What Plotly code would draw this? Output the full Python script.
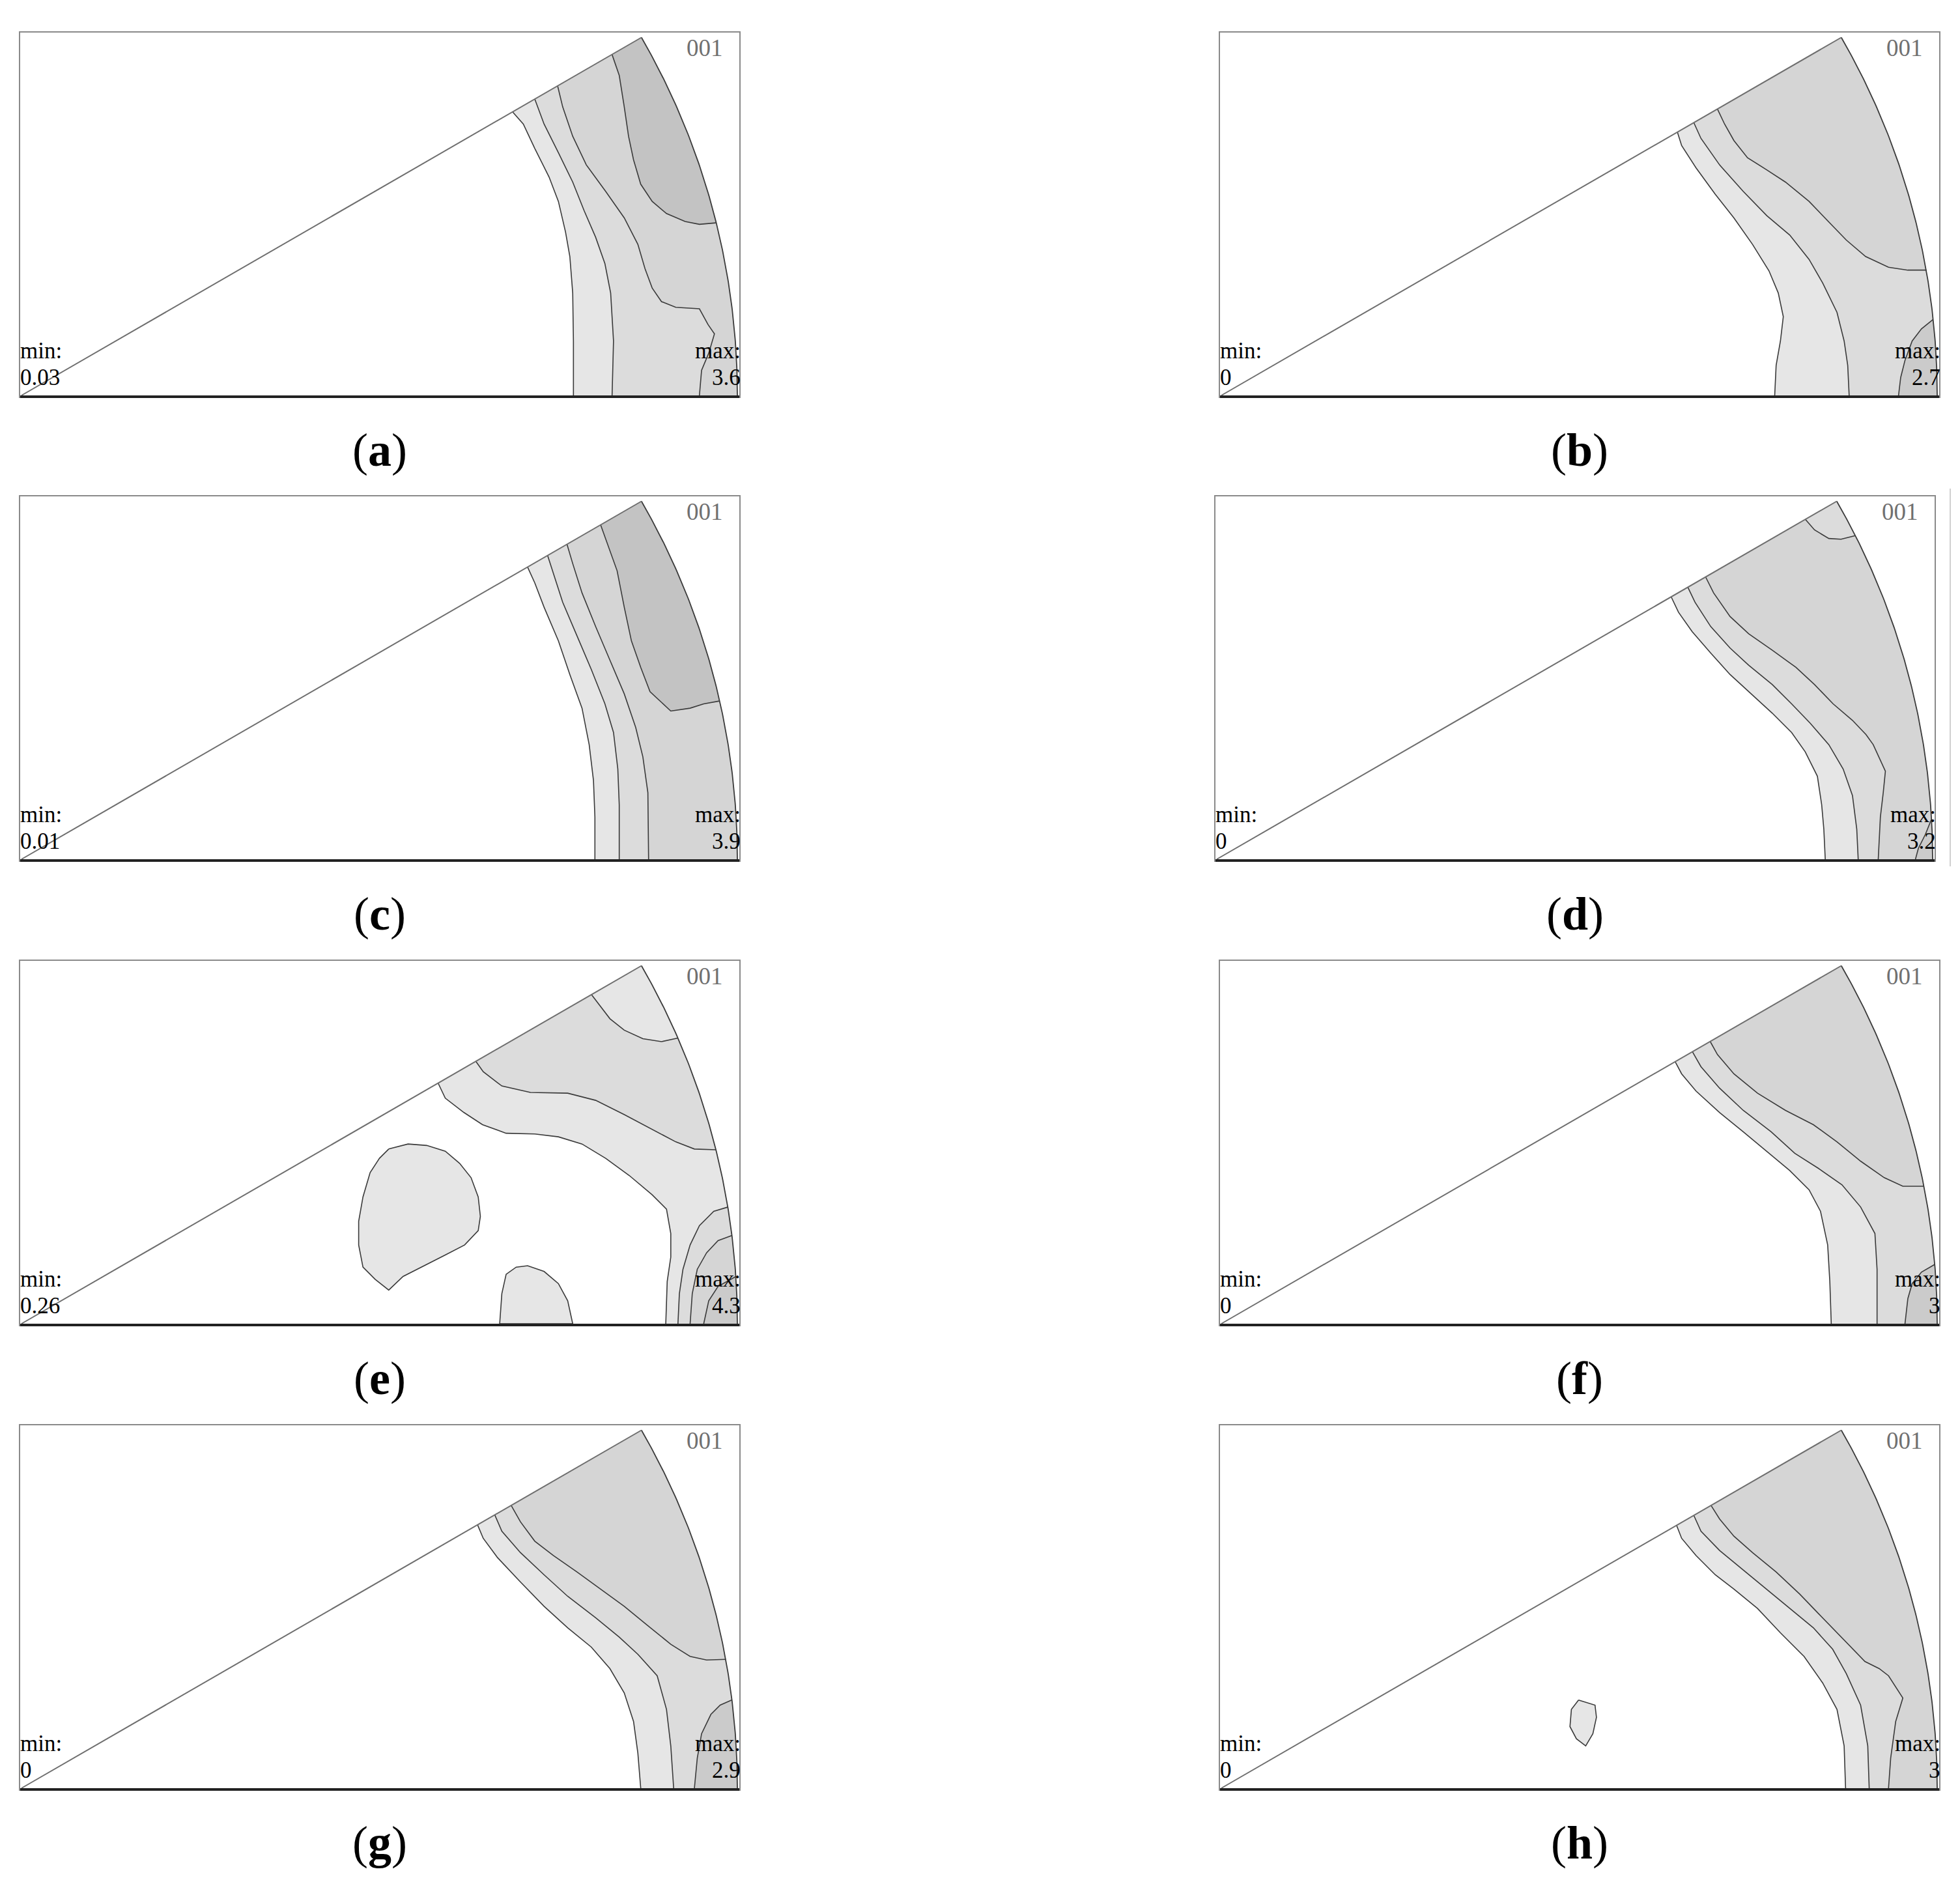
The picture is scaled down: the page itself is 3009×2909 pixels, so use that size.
import numpy as np
import plotly.graph_objects as go

# panel texts
letters = ["a", "b", "c", "d", "e", "f", "g", "h"]
min_values = ["0.03", "0", "0.01", "0", "0.26", "0", "0", "0"]
max_values = ["3.6", "2.7", "3.9", "3.2", "4.3", "3", "2.9", "3"]
pole_label = "001"

# contour boundaries in the 0-30 deg sector (unit radius)
# each entry: (density level, "edge" = ends on the sector border / "loop" = closed, points)
contours_a = [
    (1, "edge", [(0.686, 0.396), (0.701, 0.379), (0.717, 0.345), (0.737, 0.305), (0.750, 0.271), (0.760, 0.228),
                 (0.766, 0.194), (0.770, 0.143), (0.771, 0.076), (0.771, 0.0)]),
    (2, "edge", [(0.717, 0.414), (0.730, 0.379), (0.750, 0.339), (0.770, 0.298), (0.786, 0.258), (0.802, 0.221),
                 (0.815, 0.184), (0.823, 0.143), (0.827, 0.076), (0.825, 0.0)]),
    (3, "edge", [(0.749, 0.432), (0.756, 0.403), (0.770, 0.362), (0.789, 0.322), (0.816, 0.285), (0.842, 0.248),
                 (0.861, 0.211), (0.871, 0.177), (0.881, 0.150), (0.894, 0.131), (0.914, 0.123), (0.947, 0.121),
                 (0.959, 0.099), (0.968, 0.086), (0.960, 0.059), (0.950, 0.035), (0.947, 0.0)]),
    (5, "edge", [(0.825, 0.476), (0.835, 0.447), (0.842, 0.403), (0.848, 0.362), (0.855, 0.329), (0.865, 0.295),
                 (0.881, 0.271), (0.901, 0.254), (0.927, 0.243), (0.947, 0.239), (0.970, 0.241)]),
]
contours_b = [
    (1, "edge", [(0.637, 0.368), (0.643, 0.349), (0.663, 0.318), (0.690, 0.281), (0.716, 0.248), (0.742, 0.211),
                 (0.765, 0.174), (0.778, 0.143), (0.785, 0.110), (0.781, 0.076), (0.775, 0.042), (0.773, 0.0)]),
    (2, "edge", [(0.660, 0.381), (0.670, 0.359), (0.696, 0.322), (0.729, 0.285), (0.762, 0.251), (0.794, 0.224),
                 (0.821, 0.190), (0.840, 0.157), (0.860, 0.116), (0.870, 0.076), (0.875, 0.042), (0.877, 0.0)]),
    (3, "edge", [(0.693, 0.400), (0.703, 0.379), (0.716, 0.356), (0.735, 0.332), (0.762, 0.315), (0.788, 0.298),
                 (0.821, 0.271), (0.847, 0.244), (0.873, 0.217), (0.900, 0.194), (0.932, 0.179), (0.959, 0.175),
                 (0.985, 0.175)]),
    (4, "edge", [(0.994, 0.106), (0.978, 0.093), (0.965, 0.076), (0.955, 0.049), (0.949, 0.025), (0.946, 0.0)]),
]
contours_c = [
    (1, "edge", [(0.707, 0.408), (0.717, 0.386), (0.730, 0.352), (0.750, 0.305), (0.766, 0.258), (0.783, 0.211),
                 (0.793, 0.160), (0.799, 0.110), (0.801, 0.059), (0.801, 0.0)]),
    (2, "edge", [(0.735, 0.424), (0.743, 0.399), (0.756, 0.359), (0.776, 0.312), (0.796, 0.265), (0.815, 0.217),
                 (0.827, 0.177), (0.833, 0.126), (0.835, 0.076), (0.835, 0.0)]),
    (3, "edge", [(0.762, 0.440), (0.770, 0.413), (0.783, 0.372), (0.802, 0.325), (0.822, 0.278), (0.842, 0.231),
                 (0.858, 0.184), (0.868, 0.143), (0.875, 0.093), (0.876, 0.0)]),
    (5, "edge", [(0.809, 0.467), (0.819, 0.440), (0.832, 0.403), (0.842, 0.352), (0.852, 0.305), (0.865, 0.268),
                 (0.878, 0.234), (0.907, 0.207), (0.934, 0.211), (0.953, 0.217), (0.975, 0.221)]),
]
contours_d = [
    (1, "edge", [(0.635, 0.366), (0.645, 0.345), (0.664, 0.318), (0.690, 0.288), (0.717, 0.258), (0.743, 0.234),
                 (0.776, 0.204), (0.803, 0.177), (0.822, 0.150), (0.839, 0.116), (0.845, 0.076), (0.848, 0.042),
                 (0.850, 0.0)]),
    (2, "edge", [(0.658, 0.380), (0.668, 0.359), (0.690, 0.325), (0.717, 0.295), (0.743, 0.271), (0.776, 0.244),
                 (0.803, 0.217), (0.829, 0.190), (0.855, 0.160), (0.875, 0.126), (0.888, 0.089), (0.894, 0.042),
                 (0.896, 0.0)]),
    (3, "edge", [(0.683, 0.394), (0.694, 0.372), (0.717, 0.339), (0.743, 0.315), (0.776, 0.292), (0.809, 0.268),
                 (0.835, 0.244), (0.861, 0.217), (0.888, 0.194), (0.907, 0.174), (0.917, 0.160), (0.934, 0.123),
                 (0.931, 0.093), (0.927, 0.059), (0.924, 0.0)]),
    (4, "edge", [(0.998, 0.055), (0.990, 0.035), (0.980, 0.015), (0.976, 0.0)]),
    (2, "edge", [(0.822, 0.475), (0.835, 0.460), (0.855, 0.448), (0.872, 0.447), (0.892, 0.452)]),
]
contours_e = [
    (1, "edge", [(0.582, 0.336), (0.592, 0.315), (0.618, 0.295), (0.644, 0.278), (0.677, 0.266), (0.717, 0.265),
                 (0.750, 0.261), (0.783, 0.251), (0.816, 0.231), (0.849, 0.207), (0.881, 0.180), (0.901, 0.160),
                 (0.907, 0.126), (0.907, 0.093), (0.902, 0.059), (0.900, 0.0)]),
    (2, "edge", [(0.635, 0.366), (0.645, 0.352), (0.671, 0.332), (0.711, 0.323), (0.763, 0.322), (0.802, 0.312),
                 (0.842, 0.292), (0.881, 0.271), (0.914, 0.254), (0.940, 0.244), (0.970, 0.243)]),
    (1, "edge", [(0.796, 0.460), (0.806, 0.447), (0.822, 0.426), (0.842, 0.410), (0.868, 0.398), (0.894, 0.394),
                 (0.917, 0.399)]),
    (2, "edge", [(0.987, 0.163), (0.967, 0.157), (0.947, 0.137), (0.934, 0.110), (0.924, 0.076), (0.919, 0.042),
                 (0.917, 0.0)]),
    (3, "edge", [(0.992, 0.123), (0.973, 0.116), (0.957, 0.099), (0.944, 0.076), (0.937, 0.042), (0.934, 0.0)]),
    (4, "edge", [(0.998, 0.066), (0.973, 0.052), (0.960, 0.032), (0.953, 0.0)]),
    (1, "loop", [(0.513, 0.244), (0.540, 0.251), (0.566, 0.249), (0.592, 0.241), (0.612, 0.224), (0.628, 0.204),
                 (0.638, 0.177), (0.641, 0.150), (0.638, 0.130), (0.619, 0.110), (0.592, 0.096), (0.559, 0.079),
                 (0.533, 0.066), (0.513, 0.047), (0.494, 0.062), (0.477, 0.079), (0.471, 0.110), (0.471, 0.143),
                 (0.477, 0.177), (0.487, 0.211), (0.500, 0.231)]),
    (1, "loop", [(0.668, 0.0), (0.671, 0.042), (0.677, 0.069), (0.691, 0.079), (0.707, 0.081), (0.730, 0.073),
                 (0.750, 0.056), (0.763, 0.032), (0.770, 0.0)]),
]
contours_f = [
    (1, "edge", [(0.634, 0.366), (0.643, 0.349), (0.663, 0.325), (0.696, 0.295), (0.729, 0.268), (0.762, 0.241),
                 (0.794, 0.214), (0.821, 0.187), (0.837, 0.157), (0.847, 0.110), (0.850, 0.059), (0.852, 0.0)]),
    (2, "edge", [(0.658, 0.380), (0.670, 0.359), (0.696, 0.329), (0.729, 0.298), (0.768, 0.268), (0.801, 0.238),
                 (0.834, 0.217), (0.867, 0.194), (0.893, 0.163), (0.913, 0.126), (0.916, 0.076), (0.916, 0.0)]),
    (3, "edge", [(0.683, 0.394), (0.693, 0.376), (0.716, 0.349), (0.749, 0.322), (0.788, 0.298), (0.827, 0.278),
                 (0.860, 0.254), (0.893, 0.227), (0.926, 0.204), (0.952, 0.192), (0.981, 0.192)]),
    (4, "edge", [(0.997, 0.083), (0.978, 0.072), (0.965, 0.056), (0.959, 0.035), (0.955, 0.0)]),
]
contours_g = [
    (1, "edge", [(0.637, 0.368), (0.645, 0.349), (0.665, 0.322), (0.697, 0.288), (0.730, 0.254), (0.763, 0.224),
                 (0.796, 0.197), (0.822, 0.167), (0.842, 0.133), (0.855, 0.093), (0.861, 0.049), (0.865, 0.0)]),
    (2, "edge", [(0.661, 0.382), (0.671, 0.359), (0.697, 0.329), (0.730, 0.298), (0.763, 0.268), (0.802, 0.238),
                 (0.835, 0.211), (0.861, 0.187), (0.888, 0.157), (0.901, 0.110), (0.907, 0.059), (0.911, 0.0)]),
    (3, "edge", [(0.684, 0.395), (0.697, 0.372), (0.717, 0.345), (0.743, 0.325), (0.776, 0.302), (0.809, 0.278),
                 (0.842, 0.254), (0.875, 0.227), (0.907, 0.201), (0.934, 0.184), (0.957, 0.179), (0.984, 0.180)]),
    (4, "edge", [(0.992, 0.123), (0.976, 0.116), (0.963, 0.103), (0.950, 0.076), (0.944, 0.042), (0.940, 0.0)]),
]
contours_h = [
    (1, "edge", [(0.636, 0.367), (0.643, 0.349), (0.663, 0.325), (0.690, 0.298), (0.716, 0.278), (0.749, 0.251),
                 (0.781, 0.217), (0.814, 0.184), (0.840, 0.147), (0.860, 0.110), (0.870, 0.059), (0.872, 0.0)]),
    (2, "edge", [(0.660, 0.381), (0.670, 0.359), (0.696, 0.332), (0.729, 0.305), (0.762, 0.278), (0.794, 0.251),
                 (0.827, 0.224), (0.854, 0.194), (0.873, 0.160), (0.893, 0.116), (0.903, 0.059), (0.905, 0.0)]),
    (3, "edge", [(0.684, 0.395), (0.696, 0.376), (0.716, 0.352), (0.742, 0.329), (0.775, 0.302), (0.808, 0.271),
                 (0.834, 0.244), (0.860, 0.217), (0.886, 0.190), (0.899, 0.177), (0.919, 0.167), (0.932, 0.157),
                 (0.952, 0.126), (0.942, 0.093), (0.935, 0.042), (0.932, 0.0)]),
    (1, "loop", [(0.499, 0.123), (0.522, 0.116), (0.524, 0.099), (0.519, 0.076), (0.509, 0.059), (0.496, 0.069),
                 (0.487, 0.086), (0.489, 0.110)]),
]

panels = [contours_a, contours_b, contours_c, contours_d, contours_e, contours_f, contours_g, contours_h]

level_colors = {1: "#e6e6e6", 2: "#dcdcdc", 3: "#d5d5d5", 4: "#cbcbcb", 5: "#c3c3c3"}

W, H = 3009, 2909
PAGE_OFFSET = 8  # the html body margin shifts the plot div
BOX_W, BOX_H = 1104, 559
PX_PER_UNIT = 1099.0
row_tops = [50, 762, 1475, 2188]
col_lefts = [31, 1873]
SECTOR = 30.0


def boundary_pos(p):
    """Position along the sector border: 0-1 base, 1-2 arc, 2-3 the 30 deg edge."""
    x, y = p
    r = np.hypot(x, y)
    th = np.degrees(np.arctan2(y, x))
    if abs(th - SECTOR) < 1.5 and r < 0.995:
        return 3.0 - r
    if y < 0.002:
        return x
    return 1.0 + th / SECTOR


def boundary_point(s):
    if s <= 1.0:
        return s, 0.0
    if s <= 2.0:
        t = np.radians((s - 1.0) * SECTOR)
        return np.cos(t), np.sin(t)
    r = 3.0 - s
    t = np.radians(SECTOR)
    return r * np.cos(t), r * np.sin(t)


def boundary_walk(s0, s1):
    ss = np.linspace(s0, s1, 240)
    ss = np.union1d(ss, [c for c in (1.0, 2.0) if s0 < c < s1])
    pts = [boundary_point(s) for s in ss]
    return [p[0] for p in pts], [p[1] for p in pts]


fig = go.Figure()
layout_axes = {}
annotations = []
shapes = []
serif = "Liberation Serif, Times New Roman, serif"

for i, panel in enumerate(panels):
    n = "" if i == 0 else str(i + 1)
    xa, ya = "x" + n, "y" + n
    row, col = divmod(i, 2)
    left = col_lefts[col] - PAGE_OFFSET - (7 if letters[i] == "d" else 0)
    top = row_tops[row] - PAGE_OFFSET

    x0 = -2 / PX_PER_UNIT
    y0 = -2 / PX_PER_UNIT
    ax_common = dict(showgrid=False, zeroline=False, showticklabels=False, ticks="",
                     showline=True, mirror=True, linecolor="#8a8a8a", linewidth=2, fixedrange=True)
    layout_axes["xaxis" + n] = dict(ax_common, domain=[left / W, (left + BOX_W) / W],
                                    range=[x0, x0 + BOX_W / PX_PER_UNIT], anchor=ya)
    layout_axes["yaxis" + n] = dict(ax_common, domain=[1 - (top + BOX_H) / H, 1 - top / H],
                                    range=[y0, y0 + BOX_H / PX_PER_UNIT], anchor=xa)

    # filled contour regions
    for level, kind, pts in panel:
        px = [p[0] for p in pts]
        py = [p[1] for p in pts]
        if kind == "edge":
            bx, by = boundary_walk(boundary_pos(pts[-1]), boundary_pos(pts[0]))
            fx, fy = px + bx, py + by
        else:
            fx, fy = px + px[:1], py + py[:1]
        fig.add_trace(go.Scatter(x=fx, y=fy, mode="lines", fill="toself",
                                 fillcolor=level_colors[level], line=dict(width=0),
                                 hoverinfo="skip", showlegend=False, xaxis=xa, yaxis=ya))

    # contour lines
    for level, kind, pts in panel:
        px = [p[0] for p in pts]
        py = [p[1] for p in pts]
        if kind == "loop":
            px, py = px + px[:1], py + py[:1]
        fig.add_trace(go.Scatter(x=px, y=py, mode="lines", line=dict(color="#3a3a3a", width=1.6),
                                 hoverinfo="skip", showlegend=False, xaxis=xa, yaxis=ya))

    # sector outline
    t = np.radians(np.linspace(0, SECTOR, 120))
    fig.add_trace(go.Scatter(x=np.cos(t), y=np.sin(t), mode="lines",
                             line=dict(color="#3a3a3a", width=1.8),
                             hoverinfo="skip", showlegend=False, xaxis=xa, yaxis=ya))
    tt = np.radians(SECTOR)
    fig.add_trace(go.Scatter(x=[0, np.cos(tt)], y=[0, np.sin(tt)], mode="lines",
                             line=dict(color="#6e6e6e", width=2),
                             hoverinfo="skip", showlegend=False, xaxis=xa, yaxis=ya))
    shapes.append(dict(type="line", xref=xa + " domain", yref=ya + " domain",
                       x0=0, x1=1, y0=0, y1=0, line=dict(color="#222222", width=4)))

    annotations += [
        dict(text=pole_label, xref=xa + " domain", yref=ya + " domain", x=0.979, y=0.998,
             xanchor="right", yanchor="top", showarrow=False,
             font=dict(family=serif, size=37, color="#707070")),
        dict(text="min:", xref=xa + " domain", yref=ya + " domain", x=-0.002, y=0.127,
             xanchor="left", yanchor="middle", showarrow=False,
             font=dict(family=serif, size=35, color="#000000")),
        dict(text=min_values[i], xref=xa + " domain", yref=ya + " domain", x=-0.002, y=0.052,
             xanchor="left", yanchor="middle", showarrow=False,
             font=dict(family=serif, size=35, color="#000000")),
        dict(text="max:", xref=xa + " domain", yref=ya + " domain", x=1.004, y=0.127,
             xanchor="right", yanchor="middle", showarrow=False,
             font=dict(family=serif, size=35, color="#000000")),
        dict(text=max_values[i], xref=xa + " domain", yref=ya + " domain", x=1.004, y=0.052,
             xanchor="right", yanchor="middle", showarrow=False,
             font=dict(family=serif, size=35, color="#000000")),
        dict(text="(<b>" + letters[i] + "</b>)", xref=xa + " domain", yref=ya + " domain",
             x=0.5, y=-82 / BOX_H, xanchor="center", yanchor="middle", showarrow=False,
             font=dict(family=serif, size=72, color="#000000")),
    ]

# faint scan edge to the right of panel (d)
shapes.append(dict(type="line", xref="paper", yref="paper",
                   x0=(2994 - PAGE_OFFSET) / W, x1=(2994 - PAGE_OFFSET) / W,
                   y0=1 - (1330 - PAGE_OFFSET) / H, y1=1 - (750 - PAGE_OFFSET) / H,
                   line=dict(color="#d0d0d0", width=2)))

fig.update_layout(
    width=W, height=H,
    margin=dict(l=0, r=0, t=0, b=0),
    paper_bgcolor="white", plot_bgcolor="white",
    showlegend=False,
    annotations=annotations,
    shapes=shapes,
    **layout_axes,
)

fig.write_html("out.html")
